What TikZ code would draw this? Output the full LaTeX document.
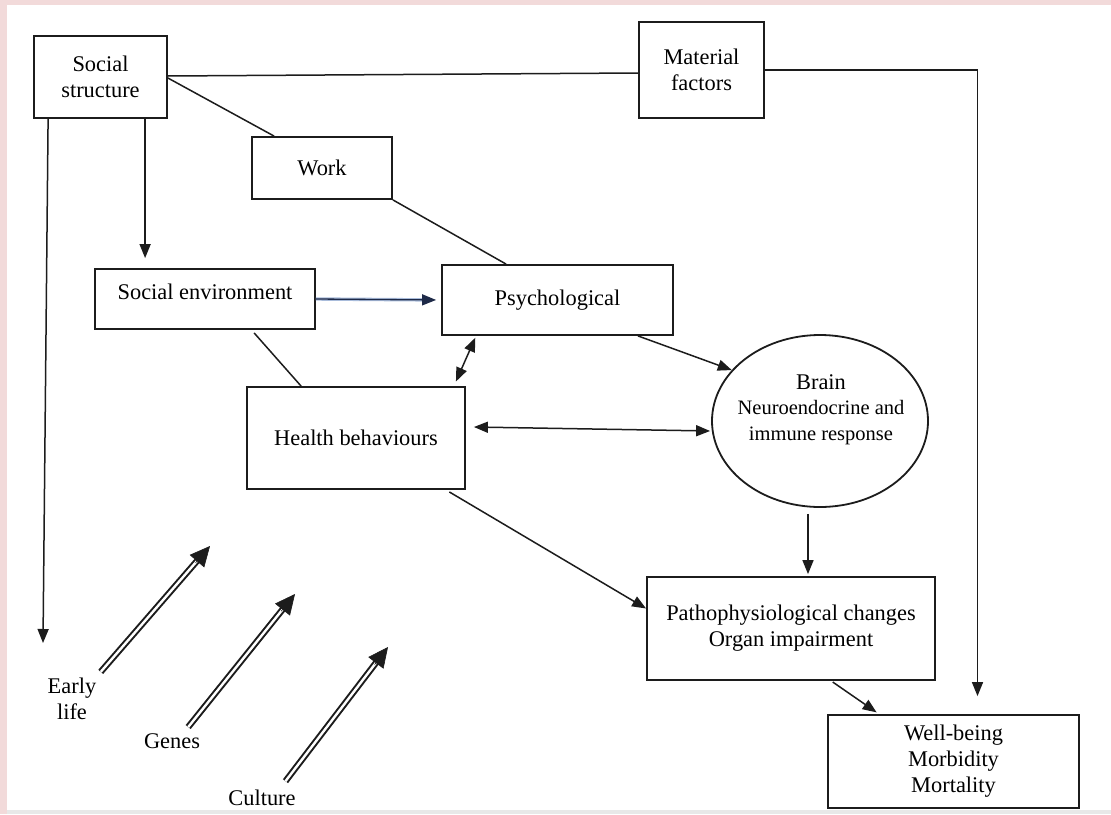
\documentclass[tikz,border=0pt]{standalone}
\usepackage{fontspec}
\setmainfont{Liberation Serif}
\usetikzlibrary{arrows.meta,shapes.geometric,calc}

\definecolor{framepink}{HTML}{F2DADA}
\definecolor{framegray}{HTML}{E8E8E8}
\definecolor{edgeink}{HTML}{1C1C1C}
\definecolor{haloblue}{HTML}{A9BCDB}
\definecolor{navyink}{HTML}{1E2A48}

\begin{document}
\begin{tikzpicture}[
  x=1pt, y=-1pt,
  every node/.style={font=\fontsize{22.4}{26}\selectfont, text=black},
  box/.style={draw=edgeink, line width=1.8pt, rectangle, inner sep=0pt, align=center},
  label/.style={inner sep=0pt, align=center},
  conn/.style={draw=edgeink, line width=1.5pt},
  arr/.style={conn, -{Triangle[length=14pt,width=11pt]}},
  biarr/.style={conn, {Triangle[length=14pt,width=11pt]}-{Triangle[length=14pt,width=11pt]}},
  shaft/.style={draw=edgeink, line width=2pt, double=white, double distance=2.4pt},
  bighead/.style={draw=edgeink, fill=edgeink, line width=0.6pt, -{Triangle[length=20pt,width=19pt]}}
]
% page frame
\useasboundingbox (0,0) rectangle (1111,814);
\fill[framepink] (0,0) rectangle (1111,814);
\fill[white] (6.5,5) rectangle (1111,810);
\fill[framegray] (6.5,810) rectangle (1111,814);

% boxes
\node[box, minimum width=133pt, minimum height=82pt] (ss) at (100.5,77) {Social\\structure};
\node[box, minimum width=125pt, minimum height=96pt] (mf) at (701.5,70) {Material\\factors};
\node[box, minimum width=140pt, minimum height=62pt] (wk) at (322,168) {Work};
\node[box, minimum width=231pt, minimum height=70pt] (ps) at (557.5,300) {Psychological};
\node[box, minimum width=220pt, minimum height=60pt] (senv) at (205,299) {};
\node[label] (senvtext) at (205,292) {Social environment};
\node[box, minimum width=218pt, minimum height=102pt] (hb) at (356,438) {Health behaviours};
\node[draw=edgeink, line width=1.8pt, ellipse, inner sep=0pt, minimum width=216pt, minimum height=172pt] (br) at (820,421) {};
\node[label] (brtext) at (821,410)
  {Brain\\[-0.5pt]
   {\fontsize{20.5}{25}\selectfont Neuroendocrine and}\\
   {\fontsize{20.5}{25}\selectfont immune response}};
\node[box, minimum width=288pt, minimum height=103pt] (pa) at (791,628.5) {Pathophysiological changes\\Organ impairment};
\node[box, minimum width=251pt, minimum height=93pt] (wb) at (953.5,761.5) {Well-being\\Morbidity\\Mortality};

% free-standing labels
\node[label] (el) at (72,699) {Early\\life};
\node[label] (gn) at (172,741) {Genes};
\node[label] (cu) at (262,798) {Culture};

% free ends
\coordinate (elend) at (43,643);
\coordinate (elhead) at (210,546);
\coordinate (gnhead) at (295,594);
\coordinate (cuhead) at (388,647);

% social structure links
\draw[conn] ([yshift=1pt]ss.east) -- ([yshift=-3pt]mf.west);
\draw[arr, shorten >=18pt] (mf.east) -| ([xshift=24pt]wb.north);
\draw[conn] ([yshift=-1pt]ss.east) -- ([xshift=23pt]wk.north west);
\draw[conn] (wk.south east) -- ([xshift=65pt]ps.north west);
\draw[arr, shorten >=10pt] ([xshift=112pt]ss.south west) -- ([xshift=51pt]senv.north west);
\draw[arr] ([xshift=15pt]ss.south west) -- (elend);

% social environment to psychological
\draw[line width=3.4pt, haloblue, shorten >=12pt] (senv.east) -- (ps.west);
\draw[draw=navyink, line width=1.3pt, -{Triangle[length=14pt,width=11pt]}, shorten >=5pt] (senv.east) -- (ps.west);
\draw[conn] ([xshift=160pt, yshift=-3pt]senv.south west) -- ([xshift=55pt]hb.north west);

% psychological / behaviours / brain
\draw[biarr, shorten <=2pt, shorten >=5pt] ([xshift=35pt]ps.south west) -- ([xshift=-12pt]hb.north east);
\draw[biarr, shorten >=1pt] ([shift={(8pt,11pt)}]hb.east) -- ([yshift=-10pt]br.west);
\draw[arr] ([xshift=-36pt]ps.south east) -- (br.150);
\draw[arr, shorten <=6pt, shorten >=2pt] ([xshift=-12pt]br.south) -- ([xshift=17pt]pa.north);
\draw[arr, shorten <=4pt] ([xshift=-20pt]hb.south east) -- ([yshift=20pt]pa.west);
\draw[arr, shorten <=2pt, shorten >=3pt] ([xshift=185pt]pa.south west) -- ([xshift=52pt]wb.north west);

% contextual influences: early life, genes, culture
\draw[shaft, shorten <=8pt, shorten >=17pt] ([shift={(-1pt,0pt)}]el.north east) -- (elhead);
\draw[bighead] ($(elhead)!22pt!(el.north east)$) -- (elhead);
\draw[shaft, shorten <=8pt, shorten >=17pt] ([xshift=-17pt]gn.north east) -- (gnhead);
\draw[bighead] ($(gnhead)!22pt!([xshift=-17pt]gn.north east)$) -- (gnhead);
\draw[shaft, shorten <=11pt, shorten >=17pt] ([xshift=-17pt]cu.north east) -- (cuhead);
\draw[bighead] ($(cuhead)!22pt!([xshift=-17pt]cu.north east)$) -- (cuhead);
\end{tikzpicture}
\end{document}
